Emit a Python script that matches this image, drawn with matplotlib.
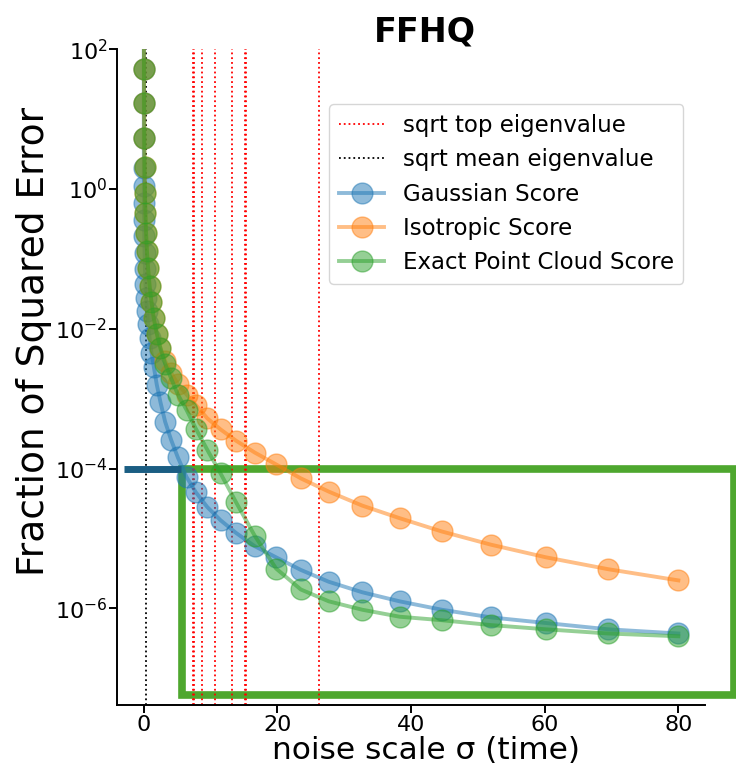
import numpy as np
import matplotlib
matplotlib.use('Agg')
import matplotlib.pyplot as plt
from matplotlib.patches import Rectangle

# noise levels (sigma) at which the errors were measured
sigma = [80.0, 69.5, 60.2, 52.0, 44.6, 38.3, 32.7, 27.7, 23.5, 19.8,
         16.6, 13.8, 11.5, 9.5, 7.8, 6.4, 5.1, 4.1, 3.2, 2.5,
         1.95, 1.5, 1.15, 0.87, 0.65, 0.48, 0.35, 0.25, 0.18, 0.12,
         0.08, 0.055, 0.035, 0.022, 0.013, 0.008, 0.005, 0.003, 0.002]

# log10 of fraction of squared error
gaussian_log = [-6.36, -6.30, -6.21, -6.13, -6.02, -5.90, -5.77, -5.62, -5.45, -5.27,
                -5.11, -4.92, -4.74, -4.55, -4.34, -4.12, -3.84, -3.59, -3.33, -3.05,
                -2.80, -2.54, -2.34, -2.13, -1.93, -1.75, -1.56, -1.36, -1.15, -0.91,
                -0.67, -0.44, -0.20, 0.05, 0.30, 0.73, 1.23, 1.72, 2.25]
isotropic_log = [-5.60, -5.44, -5.27, -5.09, -4.90, -4.71, -4.53, -4.33, -4.14, -3.94,
                 -3.77, -3.60, -3.44, -3.28, -3.09, -2.94, -2.79, -2.63, -2.46, -2.27,
                 -2.07, -1.85, -1.61, -1.38, -1.13, -0.89, -0.63, -0.34, -0.05, 0.32,
                 0.73, 1.23, 1.72, 2.2, 2.6, 3.0, 3.3, 3.6, 3.9]
exact_log = [-6.40, -6.36, -6.30, -6.24, -6.17, -6.12, -6.02, -5.90, -5.73, -5.43,
             -4.96, -4.48, -4.07, -3.73, -3.43, -3.16, -2.94, -2.71, -2.50, -2.28,
             -2.07, -1.85, -1.61, -1.38, -1.13, -0.89, -0.63, -0.34, -0.05, 0.32,
             0.73, 1.23, 1.72, 2.2, 2.6, 3.0, 3.3, 3.6, 3.9]

# sqrt of eigenvalues
sqrt_top_eig = [7.35, 7.55, 8.7, 10.7, 13.2, 15.1, 15.35, 26.2]
sqrt_mean_eig = 0.27

fig = plt.figure(figsize=(7.36, 7.71), dpi=100)
ax = fig.add_axes([0.159, 0.085, 0.799, 0.851])

for i, x in enumerate(sqrt_top_eig):
    ax.axvline(x, color='red', linestyle=':', lw=1.3,
               label='sqrt top eigenvalue' if i == 0 else None)
ax.axvline(sqrt_mean_eig, color='black', linestyle=':', lw=1.3, label='sqrt mean eigenvalue')

ax.plot(sigma, 10 ** np.array(gaussian_log), 'o-', color='tab:blue', alpha=0.5,
        lw=2.8, ms=15, label='Gaussian Score')
ax.plot(sigma, 10 ** np.array(isotropic_log), 'o-', color='tab:orange', alpha=0.5,
        lw=2.8, ms=15, label='Isotropic Score')
ax.plot(sigma, 10 ** np.array(exact_log), 'o-', color='tab:green', alpha=0.5,
        lw=2.8, ms=15, label='Exact Point Cloud Score')

ax.set_yscale('log')
ax.set_xlim(-4, 84)
ax.set_ylim(10 ** -7.39, 100)
ax.set_yticks([1e2, 1e0, 1e-2, 1e-4, 1e-6])
ax.minorticks_off()
ax.set_xticks([0, 20, 40, 60, 80])
ax.tick_params(labelsize=16, length=5.5, width=1.4, pad=1.5)
for s in ['top', 'right']:
    ax.spines[s].set_visible(False)
for s in ['left', 'bottom']:
    ax.spines[s].set_linewidth(1.4)

ax.set_xlabel('noise scale σ (time)', fontsize=22.5, x=0.525, labelpad=0.5)
ax.set_ylabel('Fraction of Squared Error', fontsize=27, y=0.555, labelpad=2)
ax.set_title('FFHQ', fontsize=24, fontweight='bold', x=0.524)

ax.legend(fontsize=16.5, loc='upper right', bbox_to_anchor=(0.9626, 0.916),
          borderaxespad=0)

# highlight marks drawn over the plot
ax.plot([-2.9, 5.5], [1e-4, 1e-4], color='#1b5e83', lw=5,
        solid_capstyle='butt', clip_on=False)
ax.add_patch(Rectangle((5.7, 10 ** -7.24), 88.4 - 5.7, 1e-4 - 10 ** -7.24,
                       fill=False, edgecolor='#4ea72e', lw=5.5, clip_on=False))

fig.savefig('out.png', dpi=100)
